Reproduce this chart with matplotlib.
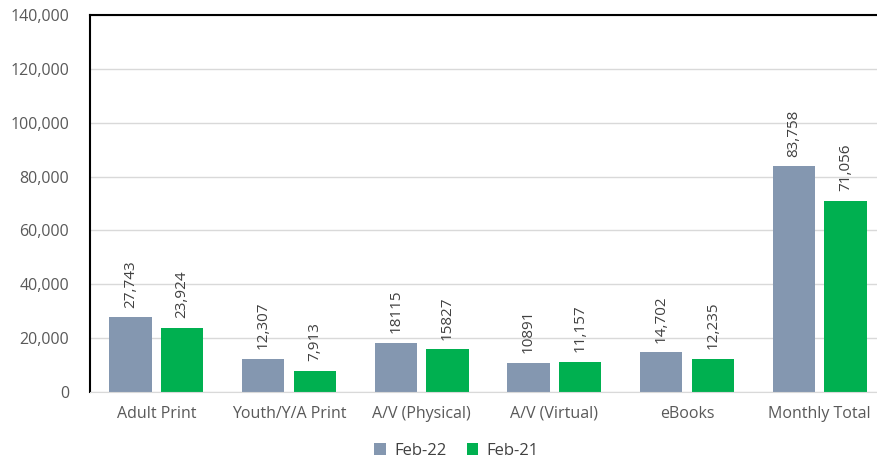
import matplotlib.pyplot as plt
import numpy as np

categories = ["Adult Print", "Youth/Y/A Print", "A/V (Physical)", "A/V (Virtual)", "eBooks", "Monthly Total"]
feb22 = [27743, 12307, 18115, 10891, 14702, 83758]
feb21 = [23924, 7913, 15827, 11157, 12235, 71056]
feb22_labels = ["27,743", "12,307", "18115", "10891", "14,702", "83,758"]
feb21_labels = ["23,924", "7,913", "15827", "11,157", "12,235", "71,056"]

plt.rcParams["font.family"] = ["Open Sans", "DejaVu Sans"]

fig = plt.figure(figsize=(8.78, 4.62), dpi=100)
# plot area runs slightly past the right edge, like the original export
ax = fig.add_axes([90 / 878, 70 / 462, 796 / 878, 377 / 462])

x = np.arange(len(categories))
w = 0.32
b1 = ax.bar(x - 0.195, feb22, w, color="#8497B0", label="Feb-22", zorder=2)
b2 = ax.bar(x + 0.195, feb21, w, color="#00B050", label="Feb-21", zorder=2)

for bars, labels in ((b1, feb22_labels), (b2, feb21_labels)):
    for bar, lab in zip(bars, labels):
        ax.annotate(lab, (bar.get_x() + bar.get_width() / 2, bar.get_height()),
                    xytext=(0, 7), textcoords="offset points", rotation=90,
                    ha="center", va="bottom", fontsize=11, color="#404040")

ax.set_xlim(-0.5, len(categories) - 0.5)
ax.set_ylim(0, 140000)
ax.set_yticks(range(0, 140001, 20000))
ax.yaxis.set_major_formatter(plt.FuncFormatter(lambda v, p: f"{int(v):,}"))
ax.set_xticks(x)
ax.set_xticklabels(categories)
ax.tick_params(axis="both", length=0, labelsize=11.5, labelcolor="#595959")
ax.tick_params(axis="x", pad=10)
ax.tick_params(axis="y", pad=15)
ax.grid(axis="y", color="#D9D9D9", linewidth=1, zorder=0)

ax.spines["right"].set_visible(False)
ax.spines["left"].set_color("black")
ax.spines["left"].set_linewidth(1.5)
ax.spines["top"].set_color("black")
ax.spines["top"].set_linewidth(1.5)
ax.spines["bottom"].set_color("#D9D9D9")

fig.legend(loc="lower center", bbox_to_anchor=(0.52, -0.025), ncol=2, frameon=False,
           fontsize=12, handlelength=0.7, handleheight=0.7, columnspacing=1.2,
           handletextpad=0.5, labelcolor="#404040")

fig.savefig("out.png", dpi=100)
